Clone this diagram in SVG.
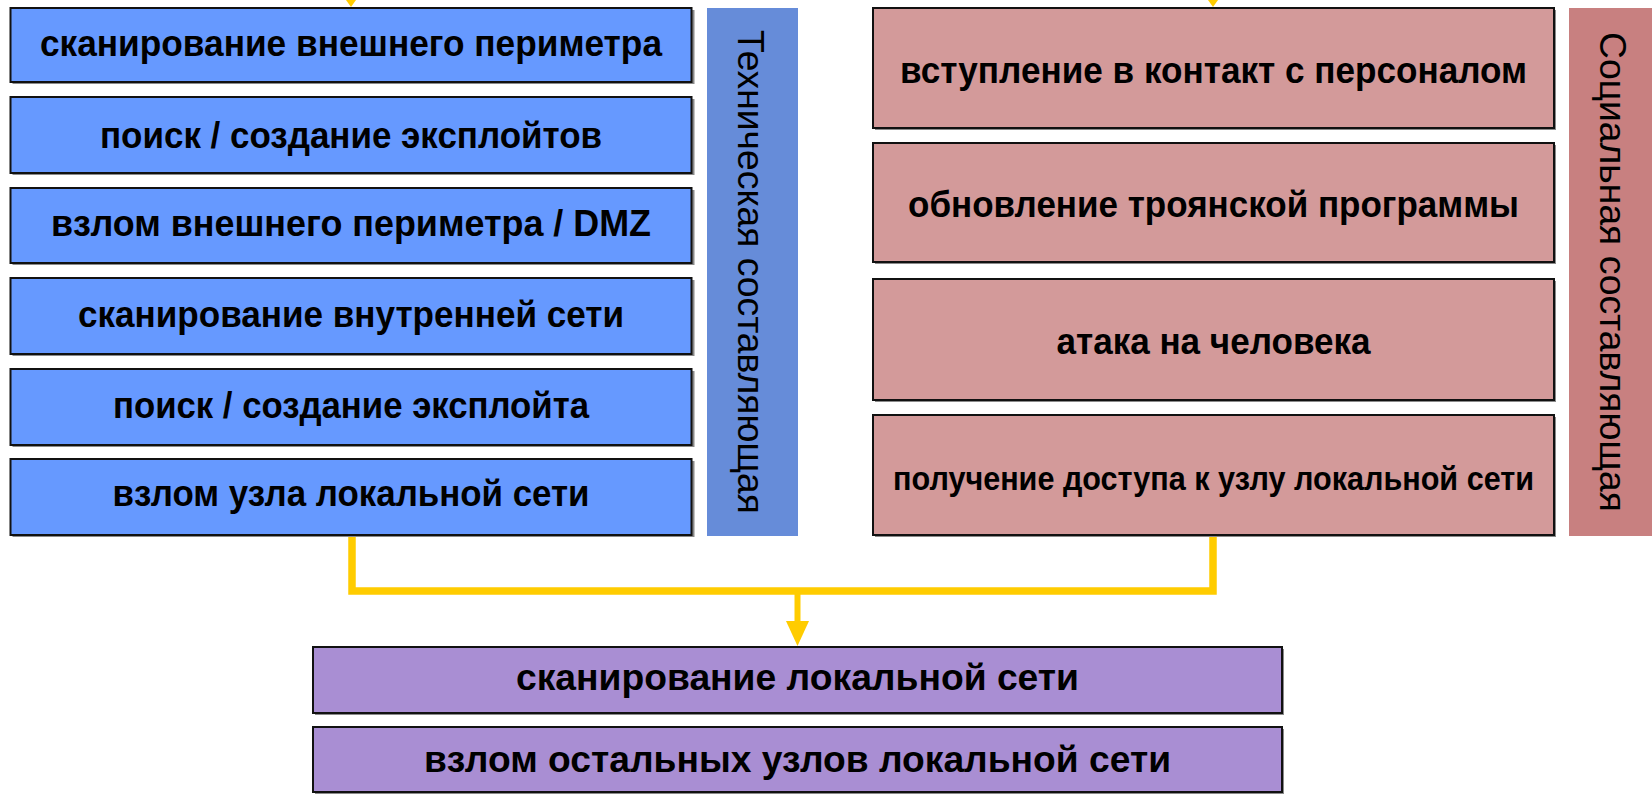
<svg xmlns="http://www.w3.org/2000/svg" width="1652" height="795" viewBox="0 0 1652 795">
<style>
.sh{fill:#8a8a8a}
.bl{fill:#6699FF;stroke:#111;stroke-width:2}
.pk{fill:#D39A9A;stroke:#111;stroke-width:2}
.pu{fill:#A98ED3;stroke:#111;stroke-width:2}
.t{font-family:"Liberation Sans",Arial,sans-serif;font-weight:bold;font-size:36px;fill:#000;text-anchor:middle}
.t2{font-size:33px}
.s{font-family:"Liberation Sans",Arial,sans-serif;font-size:37px;fill:#000;text-anchor:middle}
.ln{stroke:#FFCC00;fill:none}
</style>
<rect width="1652" height="795" fill="#fff"/>
<g id="tech-bar"><rect x="707" y="8" width="91" height="528" fill="#668CD9"/><text class="s" transform="translate(738,272) rotate(90)" textLength="484" lengthAdjust="spacingAndGlyphs">Техническая составляющая</text></g>
<g id="social-bar"><rect x="1569" y="8" width="83" height="528" fill="#C88080"/><text class="s" transform="translate(1600,272) rotate(90)" textLength="480" lengthAdjust="spacingAndGlyphs">Социальная составляющая</text></g>
<g id="t1"><rect class="sh" x="12.5" y="10" width="682" height="74"/><rect class="bl" x="10.5" y="8" width="681" height="74"/><text class="t" x="351" y="56" textLength="622" lengthAdjust="spacingAndGlyphs">сканирование внешнего периметра</text></g>
<g id="t2"><rect class="sh" x="12.5" y="99" width="682" height="76"/><rect class="bl" x="10.5" y="97" width="681" height="76"/><text class="t" x="351" y="147.5" textLength="502" lengthAdjust="spacingAndGlyphs">поиск / создание эксплойтов</text></g>
<g id="t3"><rect class="sh" x="12.5" y="190" width="682" height="75"/><rect class="bl" x="10.5" y="188" width="681" height="75"/><text class="t" x="351" y="236" textLength="600" lengthAdjust="spacingAndGlyphs">взлом внешнего периметра / DMZ</text></g>
<g id="t4"><rect class="sh" x="12.5" y="280" width="682" height="76"/><rect class="bl" x="10.5" y="278" width="681" height="76"/><text class="t" x="351" y="326.5" textLength="546" lengthAdjust="spacingAndGlyphs">сканирование внутренней сети</text></g>
<g id="t5"><rect class="sh" x="12.5" y="371" width="682" height="76"/><rect class="bl" x="10.5" y="369" width="681" height="76"/><text class="t" x="351" y="417.5" textLength="476" lengthAdjust="spacingAndGlyphs">поиск / создание эксплойта</text></g>
<g id="t6"><rect class="sh" x="12.5" y="461" width="682" height="76"/><rect class="bl" x="10.5" y="459" width="681" height="76"/><text class="t" x="351" y="505.5" textLength="477" lengthAdjust="spacingAndGlyphs">взлом узла локальной сети</text></g>
<g id="s1"><rect class="sh" x="875" y="10" width="681" height="120"/><rect class="pk" x="873" y="8" width="681" height="120"/><text class="t" x="1213.5" y="83" textLength="627" lengthAdjust="spacingAndGlyphs">вступление в контакт с персоналом</text></g>
<g id="s2"><rect class="sh" x="875" y="145" width="681" height="119"/><rect class="pk" x="873" y="143" width="681" height="119"/><text class="t" x="1213.5" y="217" textLength="611" lengthAdjust="spacingAndGlyphs">обновление троянской программы</text></g>
<g id="s3"><rect class="sh" x="875" y="281" width="681" height="121"/><rect class="pk" x="873" y="279" width="681" height="121"/><text class="t" x="1213.5" y="354" textLength="314" lengthAdjust="spacingAndGlyphs">атака на человека</text></g>
<g id="s4"><rect class="sh" x="875" y="417" width="681" height="120"/><rect class="pk" x="873" y="415" width="681" height="120"/><text class="t t2" x="1213.5" y="490" textLength="641" lengthAdjust="spacingAndGlyphs">получение доступа к узлу локальной сети</text></g>
<g id="p1"><rect class="sh" x="315" y="649" width="969" height="66"/><rect class="pu" x="313" y="647" width="969" height="66"/><text class="t" x="797.5" y="690" textLength="563" lengthAdjust="spacingAndGlyphs">сканирование локальной сети</text></g>
<g id="p2"><rect class="sh" x="315" y="729" width="969" height="65"/><rect class="pu" x="313" y="727" width="969" height="65"/><text class="t" x="797.5" y="771.5" textLength="747" lengthAdjust="spacingAndGlyphs">взлом остальных узлов локальной сети</text></g>
<g id="connectors">
<polygon points="346,0 356,0 351,7" fill="#FFCC00"/>
<polygon points="1208,0 1218,0 1213,7" fill="#FFCC00"/>
<path class="ln" d="M352,537 V591 H1213 V537" stroke-width="7.5"/>
<line class="ln" x1="797.5" y1="591" x2="797.5" y2="624" stroke-width="6"/>
<polygon points="786,621 809,621 797.5,646" fill="#FFCC00"/>
</g>
</svg>
